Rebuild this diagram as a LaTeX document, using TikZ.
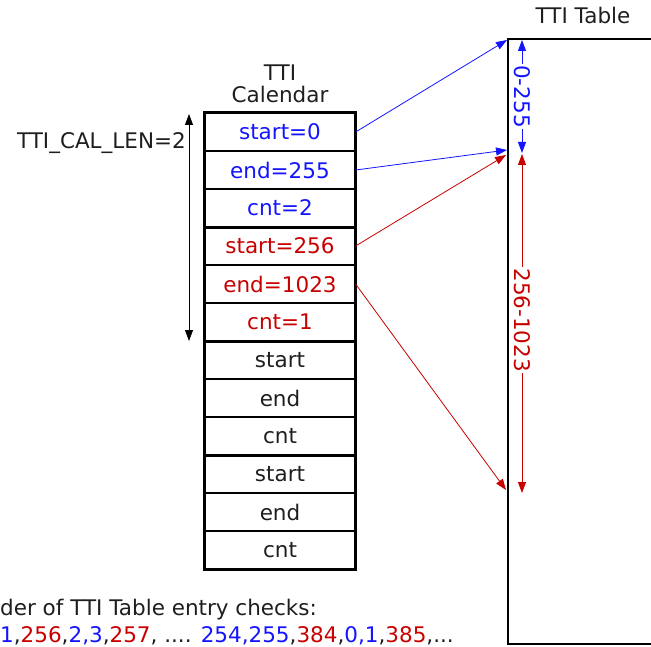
\documentclass[tikz,border=0pt]{standalone}
\usepackage{fontspec}
\setmainfont{DejaVu Sans}
\usetikzlibrary{arrows.meta}
\definecolor{cblue}{RGB}{20,20,255}
\definecolor{cred}{RGB}{200,0,0}
\definecolor{ctext}{RGB}{30,30,30}
\begin{document}
\begin{tikzpicture}[x=1pt,y=-1pt,
  every node/.style={font=\fontsize{21.5}{25}\selectfont, text=ctext},
  cell/.style={draw=black, line width=1.2pt, minimum width=150pt, minimum height=38pt, inner sep=0pt, anchor=center},
  tip/.style={-{Triangle[length=11pt,width=8pt]}},
  dtip/.style={{Triangle[length=11pt,width=8pt]}-{Triangle[length=11pt,width=8pt]}},
  link/.style={tip, line width=0.8pt},
  dimlbl/.style={fill=white, inner sep=1pt, rotate=-90}
]
\useasboundingbox (0,0) rectangle (651,647);
% TTI table
\node[draw=black, line width=1.6pt, minimum width=150pt, minimum height=605pt, anchor=north west, inner sep=0pt] (table) at (507,38) {};
\node (ttitle) at (583,15) {TTI Table};
% calendar title
\node[align=center, inner sep=0pt] (ctitle) at (280,84) {TTI\\[-3pt]Calendar};
% calendar cells
\node[cell, text=cblue] (r1) at (280,132) {start=0};
\node[cell, text=cblue] (r2) at (280,170) {end=255};
\node[cell, text=cblue] (r3) at (280,208) {cnt=2};
\node[cell, text=cred] (r4) at (280,246) {start=256};
\node[cell, text=cred] (r5) at (280,284) {end=1023};
\node[cell, text=cred] (r6) at (280,322) {cnt=1};
\node[cell] (r7) at (280,360) {start};
\node[cell] (r8) at (280,398) {end};
\node[cell] (r9) at (280,436) {cnt};
\node[cell] (r10) at (280,474) {start};
\node[cell] (r11) at (280,512) {end};
\node[cell] (r12) at (280,550) {cnt};
\draw[line width=2pt] (r1.north west) rectangle (r12.south east);
\draw[line width=2pt] (r3.south west) -- (r3.south east);
\draw[line width=2pt] (r6.south west) -- (r6.south east);
\draw[line width=2pt] (r9.south west) -- (r9.south east);
% calendar length
\node[anchor=east, inner sep=0pt] (callen) at (186,143) {TTI\_CAL\_LEN=2};
\coordinate (ltop) at (189,114);
\coordinate (lbot) at (189,341);
\draw[dtip, line width=0.8pt, black] (ltop) -- (lbot);
% table anchor points
\coordinate (t0) at (507,40);
\coordinate (t255) at (507,150);
\coordinate (t256) at (506,155);
\coordinate (t1023) at (506,490);
\draw[link, cblue] (r1.east) -- (t0);
\draw[link, cblue] (r2.east) -- (t255);
\draw[link, cred] (r4.east) -- (t256);
\draw[link, cred] (r5.east) -- (t1023);
% dimension lines
\coordinate (b0) at (522,40);
\coordinate (b1) at (522,153);
\coordinate (c0) at (522,154);
\coordinate (c1) at (522,493);
\draw[dtip, cblue, line width=0.8pt] (b0) -- (b1) node[midway, dimlbl, text=cblue] (lblb) {0-255};
\draw[dtip, cred, line width=0.8pt] (c0) -- (c1) node[pos=0.49, dimlbl, text=cred] (lblr) {256-1023};
% bottom text
\node[anchor=west, inner sep=0pt] (note1) at (0,610) {der of TTI Table entry checks:};
\node[anchor=west, inner sep=0pt] (note2) at (0,636) {\textcolor{cblue}{1},\textcolor{cred}{256},\textcolor{cblue}{2,3},\textcolor{cred}{257}, .... \textcolor{cblue}{254,255},\textcolor{cred}{384},\textcolor{cblue}{0,1},\textcolor{cred}{385},...};
\end{tikzpicture}
\end{document}
